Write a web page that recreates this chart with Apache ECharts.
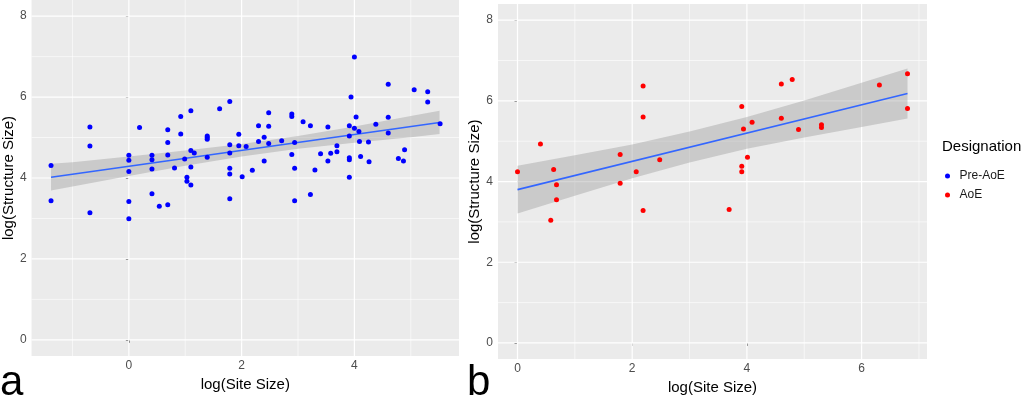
<!DOCTYPE html>
<html><head><meta charset="utf-8">
<script src="https://cdn.jsdelivr.net/npm/echarts@6/dist/echarts.min.js"></script>
<style>html,body{margin:0;padding:0;background:#fff}#c{width:1024px;height:400px}</style>
</head><body><div id="c"></div>
<script>
// ---- Panel a: Pre-AoE ----
const preX = [-1.38,-1.38,-0.69,-0.69,-0.69,0,0,0,0,0,0.19,0.41,0.41,0.41,0.41,0.54,0.69,0.69,0.69,0.69,0.81,0.92,0.92,0.99,1.03,1.03,1.10,1.10,1.10,1.10,1.16,1.39,1.39,1.39,1.39,1.61,1.79,1.79,1.79,1.79,1.79,1.79,1.95,1.95,2.01,2.08,2.19,2.30,2.30,2.40,2.40,2.48,2.48,2.48,2.71,2.89,2.89,2.89,2.94,2.94,2.94,3.09,3.22,3.22,3.30,3.40,3.53,3.53,3.58,3.69,3.69,3.91,3.91,3.91,3.91,3.91,3.94,4.00,4.00,4.03,4.08,4.09,4.11,4.25,4.26,4.38,4.60,4.60,4.60,4.78,4.87,4.89,5.06,5.30,5.30,5.52];
const preY = [4.31,3.44,5.26,4.79,3.14,4.56,4.44,4.16,3.42,2.99,5.25,4.56,4.45,4.22,3.61,3.30,3.34,5.19,4.88,4.57,4.25,5.52,5.09,4.47,4.02,3.92,5.66,4.68,4.27,3.83,4.62,5.04,5.00,4.96,4.51,5.71,5.89,4.82,4.62,4.24,4.10,3.49,5.08,4.80,4.03,4.78,4.19,5.29,4.90,5.01,4.42,5.61,5.28,4.85,4.92,5.58,5.52,4.58,4.88,4.24,3.44,5.39,5.29,3.59,4.20,4.60,5.26,4.42,4.61,4.80,4.65,5.29,5.04,4.50,4.45,4.02,6.00,6.99,5.23,5.51,5.15,4.90,4.53,4.89,4.40,5.33,6.32,5.50,5.11,4.48,4.42,4.70,6.18,6.13,5.88,5.34];
const fitAX = [-1.38, 5.51];
const fitAY = [4.02, 5.37];
const bandAX  = [-1.38,-1,0,1,2,3,4,5,5.51];
const bandALo = [3.69,3.79,4.05,4.30,4.53,4.72,4.87,5.01,5.09];
const bandAHi = [4.35,4.39,4.53,4.68,4.84,5.04,5.27,5.53,5.66];

// ---- Panel b: AoE ----
const aoeX = [0,0.40,0.63,0.68,0.68,0.58,1.79,1.79,2.07,2.19,2.19,2.19,2.48,3.69,3.91,3.91,3.91,3.94,4.01,4.09,4.60,4.60,4.79,4.90,5.30,5.30,6.31,6.80,6.80];
const aoeY = [4.24,4.93,4.30,3.92,3.55,3.04,4.67,3.96,4.24,6.37,5.60,3.28,4.54,3.31,5.86,4.38,4.24,5.30,4.60,5.47,6.42,5.57,6.53,5.29,5.41,5.34,6.39,6.67,5.81];
const fitBX = [0, 6.80];
const fitBY = [3.80, 6.18];
const bandBX  = [0,1,2,3,4,5,6,6.80];
const bandBLo = [3.21,3.65,4.08,4.47,4.81,5.09,5.35,5.56];
const bandBHi = [4.39,4.65,4.92,5.24,5.60,6.01,6.45,6.80];

// ---- ticks ----
const xTicksA = [0,2,4];
const xMinorA = [-1,1,3,5];
const xTicksB = [0,2,4,6];
const xMinorB = [1,3,5,7];
const yTicks = [0,2,4,6,8];
const yMinor = [1,3,5,7];

const FF = "'Liberation Sans', Arial, sans-serif";
const AX = {a:{xmin:-1.725,xmax:5.855}, b:{xmin:-0.34,xmax:7.14}, ymin:-0.4, ymax:8.4};

function zip(xs, ys){ return xs.map((x,i)=>[x, ys[i]]); }

function xAxisCfg(gi, min, max, ticks, gap){
  return {type:'value', gridIndex:gi, min:min, max:max, name:'log(Site Size)', nameLocation:'middle', nameGap:gap,
    nameTextStyle:{fontSize:15, color:'#000', fontFamily:FF},
    axisLine:{show:false},
    axisTick:{show:true, customValues:ticks, length:3, lineStyle:{color:'#333333', width:1}},
    axisLabel:{customValues:ticks, color:'#4D4D4D', fontSize:12, margin:4, fontFamily:FF},
    splitLine:{show:false}};
}
function yAxisCfg(gi){
  return {type:'value', gridIndex:gi, min:AX.ymin, max:AX.ymax, name:'log(Structure Size)', nameLocation:'middle', nameGap:13,
    nameTextStyle:{fontSize:15, color:'#000', fontFamily:FF},
    axisLine:{show:false},
    axisTick:{show:true, customValues:yTicks, length:3, lineStyle:{color:'#333333', width:1}},
    axisLabel:{customValues:yTicks, color:'#4D4D4D', fontSize:12, margin:5, fontFamily:FF},
    splitLine:{show:false}};
}
function gridLines(gi, xmin, xmax, xMaj, xMin){
  return {type:'custom', xAxisIndex:gi, yAxisIndex:gi, silent:true, z:1, data:[[0,0]],
    renderItem:function(params, api){
      const ch = [];
      const add = (p1, p2, w) => ch.push({type:'line', shape:{x1:p1[0],y1:p1[1],x2:p2[0],y2:p2[1]}, style:{stroke:'#FFFFFF', lineWidth:w}});
      xMin.forEach(v=>add(api.coord([v,AX.ymin]), api.coord([v,AX.ymax]), 0.6));
      yMinor.forEach(v=>add(api.coord([xmin,v]), api.coord([xmax,v]), 0.6));
      xMaj.forEach(v=>add(api.coord([v,AX.ymin]), api.coord([v,AX.ymax]), 1.2));
      yTicks.forEach(v=>add(api.coord([xmin,v]), api.coord([xmax,v]), 1.2));
      return {type:'group', children:ch};
    }};
}
function band(gi, xs, lo, hi){
  return {type:'custom', xAxisIndex:gi, yAxisIndex:gi, silent:true, z:2, data:[[0,0]],
    renderItem:function(params, api){
      const pts = [];
      for (let i=0;i<xs.length;i++) pts.push(api.coord([xs[i], hi[i]]));
      for (let i=xs.length-1;i>=0;i--) pts.push(api.coord([xs[i], lo[i]]));
      return {type:'polygon', shape:{points:pts}, style:{fill:'rgba(153,153,153,0.4)'}};
    }};
}
function fit(gi, xs, ys){
  return {type:'line', xAxisIndex:gi, yAxisIndex:gi, data:zip(xs, ys), symbol:'none', silent:true, z:3,
    lineStyle:{color:'#3366FF', width:1.6}};
}

const chart = echarts.init(document.getElementById('c'), null, {renderer:'canvas'});
chart.setOption({
  animation:false,
  backgroundColor:'#FFFFFF',
  textStyle:{fontFamily:FF},
  grid:[
    {left:29, top:0, width:430, height:356, show:true, backgroundColor:'#EBEBEB', borderWidth:0},
    {left:498, top:4, width:429, height:356, show:true, backgroundColor:'#EBEBEB', borderWidth:0}
  ],
  xAxis:[xAxisCfg(0, AX.a.xmin, AX.a.xmax, xTicksA, 16), xAxisCfg(1, AX.b.xmin, AX.b.xmax, xTicksB, 14)],
  yAxis:[yAxisCfg(0), yAxisCfg(1)],
  legend:{data:['Pre-AoE','AoE'], orient:'vertical', left:940, top:165, icon:'circle', itemWidth:14, itemHeight:5, itemGap:7,
    itemStyle:{opacity:1},
    textStyle:{fontSize:12, color:'#1A1A1A', fontFamily:FF}},
  graphic:[
    {type:'text', left:942, top:139, style:{text:'Designation', font:"15px 'Liberation Sans', Arial, sans-serif", fill:'#000'}},
    {type:'text', left:0, top:362, style:{text:'a', font:"42px 'Liberation Sans', Arial, sans-serif", fill:'#000'}},
    {type:'text', left:467, top:362, style:{text:'b', font:"42px 'Liberation Sans', Arial, sans-serif", fill:'#000'}}
  ],
  series:[
    gridLines(0, AX.a.xmin, AX.a.xmax, xTicksA, xMinorA),
    gridLines(1, AX.b.xmin, AX.b.xmax, xTicksB, xMinorB),
    band(0, bandAX, bandALo, bandAHi),
    band(1, bandBX, bandBLo, bandBHi),
    fit(0, fitAX, fitAY),
    fit(1, fitBX, fitBY),
    {name:'Pre-AoE', type:'scatter', xAxisIndex:0, yAxisIndex:0, data:zip(preX, preY), symbol:'circle', symbolSize:5, z:4,
      itemStyle:{color:'#0000FF', opacity:1}},
    {name:'AoE', type:'scatter', xAxisIndex:1, yAxisIndex:1, data:zip(aoeX, aoeY), symbol:'circle', symbolSize:5, z:4,
      itemStyle:{color:'#FF0000', opacity:1}}
  ]
});
</script></body></html>
